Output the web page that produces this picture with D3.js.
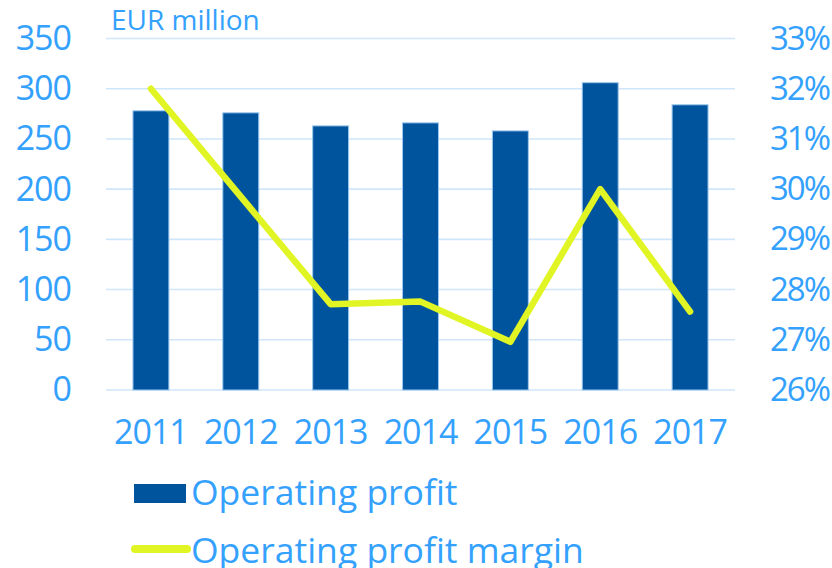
<!DOCTYPE html>
<html><head><meta charset="utf-8">
<script src="https://cdn.jsdelivr.net/npm/d3@7"></script>
<style>
html,body{margin:0;padding:0;background:#fff;}
text{font-family:"Open Sans","Noto Sans",sans-serif;}
</style></head>
<body><svg id="c" width="832" height="568"></svg>
<script>
const years = ["2011","2012","2013","2014","2015","2016","2017"];
const operatingProfit = [278, 276, 263, 266, 258, 306, 284];
const operatingMargin = [32.0, 29.85, 27.71, 27.76, 26.96, 30.0, 27.56];
const leftTicks = [0, 50, 100, 150, 200, 250, 300, 350];
const rightTicks = [26, 27, 28, 29, 30, 31, 32, 33];
const seriesNames = ["Operating profit", "Operating profit margin"];
const unitLabel = "EUR million";

const textColor = "#33a1fd", barColor = "#00549e", lineColor = "#e0f523", gridColor = "#cfe6fb";
const svg = d3.select("#c");
const pLeft = 106, pRight = 735, pTop = 38.5, pBottom = 390;

const x = d3.scaleBand().domain(years).range([pLeft, pRight]).paddingInner(0.6).paddingOuter(0.3);
const yL = d3.scaleLinear().domain([0, 350]).range([pBottom, pTop]);
const yR = d3.scaleLinear().domain([26, 33]).range([pBottom, pTop]);

// gridlines
svg.append("g").selectAll("line").data(leftTicks).join("line")
  .attr("x1", pLeft).attr("x2", pRight)
  .attr("y1", d => yL(d)).attr("y2", d => yL(d))
  .attr("stroke", gridColor).attr("stroke-width", 1.6);

const ff = '"Open Sans","Noto Sans",sans-serif';
// left axis
const axL = svg.append("g").attr("transform", `translate(${pLeft},0)`)
  .call(d3.axisLeft(yL).tickValues(leftTicks).tickSize(0).tickPadding(35));
axL.select(".domain").remove();
axL.selectAll("text").attr("fill", textColor).style("font-size", "34px").style("font-family", ff)
  .style("letter-spacing", "-1px");

// right axis
const axR = svg.append("g").attr("transform", `translate(${pRight},0)`)
  .call(d3.axisRight(yR).tickValues(rightTicks).tickSize(0).tickPadding(35).tickFormat(d => d + "%"));
axR.select(".domain").remove();
axR.selectAll("text").attr("fill", textColor).style("font-size", "33px").style("font-family", ff)
  .style("letter-spacing", "-2px");

// bottom axis
const axB = svg.append("g").attr("transform", `translate(0,${pBottom})`)
  .call(d3.axisBottom(x).tickSize(0).tickPadding(30));
axB.select(".domain").remove();
axB.selectAll("text").attr("fill", textColor).style("font-size", "34px").style("font-family", ff)
  .style("letter-spacing", "-1px");

// bars
svg.append("g").selectAll("rect").data(years).join("rect")
  .attr("x", d => x(d)).attr("width", x.bandwidth())
  .attr("y", (d, i) => yL(operatingProfit[i]))
  .attr("height", (d, i) => pBottom - yL(operatingProfit[i]))
  .attr("fill", barColor).attr("stroke", "#9cc8ef").attr("stroke-width", 1);

// line
const line = d3.line().x((d, i) => x(years[i]) + x.bandwidth() / 2).y(d => yR(d));
svg.append("path").datum(operatingMargin).attr("d", line)
  .attr("fill", "none").attr("stroke", lineColor).attr("stroke-width", 6.5)
  .attr("stroke-linejoin", "round").attr("stroke-linecap", "round");

// unit label
svg.append("text").attr("x", 111).attr("y", 30).text(unitLabel)
  .attr("fill", textColor).style("font-size", "28px");

// legend
const lg = svg.append("g");
lg.append("rect").attr("x", 134).attr("y", 484).attr("width", 52).attr("height", 19).attr("fill", barColor);
lg.append("text").attr("x", 191).attr("y", 505).text(seriesNames[0]).attr("fill", textColor).style("font-size", "35.5px");
lg.append("line").attr("x1", 135).attr("x2", 187).attr("y1", 549).attr("y2", 549)
  .attr("stroke", lineColor).attr("stroke-width", 8).attr("stroke-linecap", "round");
lg.append("text").attr("x", 191).attr("y", 563).text(seriesNames[1]).attr("fill", textColor).style("font-size", "35.5px");
</script></body></html>
